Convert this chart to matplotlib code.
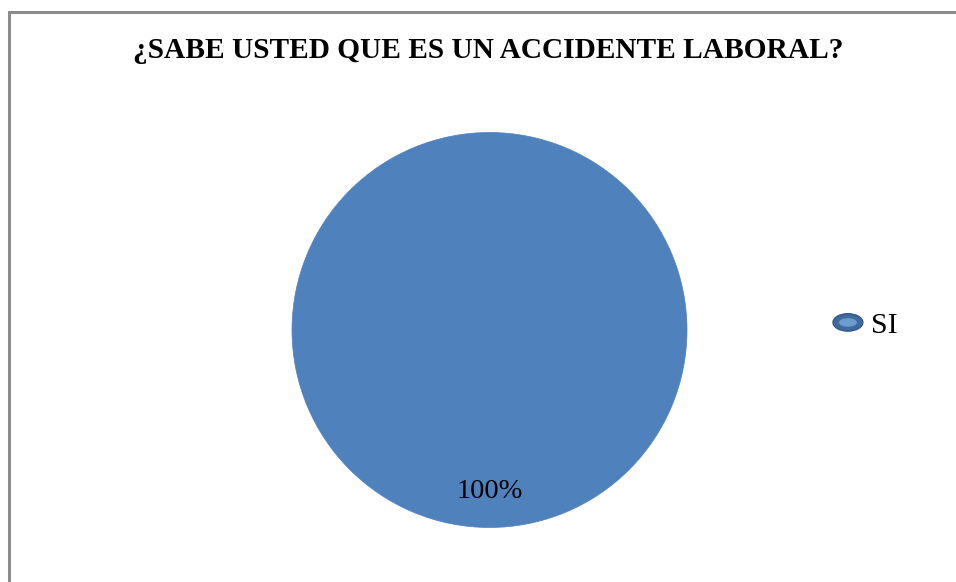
import matplotlib.pyplot as plt
from matplotlib.patches import Ellipse, Rectangle
from matplotlib.legend_handler import HandlerPatch

# data
labels = ["SI"]
values = [100]
title = "¿SABE USTED QUE ES UN ACCIDENTE LABORAL?"


class HandlerEllipse(HandlerPatch):
    def create_artists(self, legend, orig_handle, xdescent, ydescent,
                       width, height, fontsize, trans):
        cx = 0.5 * width - xdescent
        cy = 0.5 * height - ydescent
        outer = Ellipse((cx, cy), width, height,
                        facecolor="#3F6A9E", edgecolor="#35588A", lw=1)
        inner = Ellipse((cx, cy), width * 0.6, height * 0.5,
                        facecolor="#6D9AD0", edgecolor="none")
        outer.set_transform(trans)
        inner.set_transform(trans)
        return [outer, inner]


plt.rcParams['font.family'] = ['Liberation Serif', 'DejaVu Serif']

W, H = 956, 582
fig = plt.figure(figsize=(W / 100, H / 100), dpi=100)

# outer border of the chart area
fig.patches.append(Rectangle((9 / W, -0.1), 1.2, 1 - 12 / H + 0.1,
                             transform=fig.transFigure, fill=False,
                             edgecolor="#8C8C8C", lw=2.2))

cx, cy, r = 489.5, 330, 197.5
ax = fig.add_axes([(cx - r) / W, (H - cy - r) / H, 2 * r / W, 2 * r / H])
wedges, texts, autotexts = ax.pie(values, colors=["#4F81BD"], startangle=90,
                                  autopct="%1.0f%%", pctdistance=0.82,
                                  wedgeprops=dict(edgecolor="#4F81BD", lw=0.5),
                                  textprops=dict(fontsize=20.5, color="black"))
ax.set_xlim(-1, 1)
ax.set_ylim(-1, 1)
ax.set_aspect("equal")

fig.text(488 / W, 1 - 51 / H, title, ha="center", va="center",
         fontsize=21.2, fontweight="bold")

fig.legend(wedges, labels, loc="center left", bbox_to_anchor=(833 / W, 1 - 326 / H),
           frameon=False, fontsize=21.5, handlelength=1.0, handleheight=0.52,
           handletextpad=0.27, borderpad=0, borderaxespad=0,
           handler_map={wedges[0]: HandlerEllipse()})

fig.savefig("out.png", dpi=100)
